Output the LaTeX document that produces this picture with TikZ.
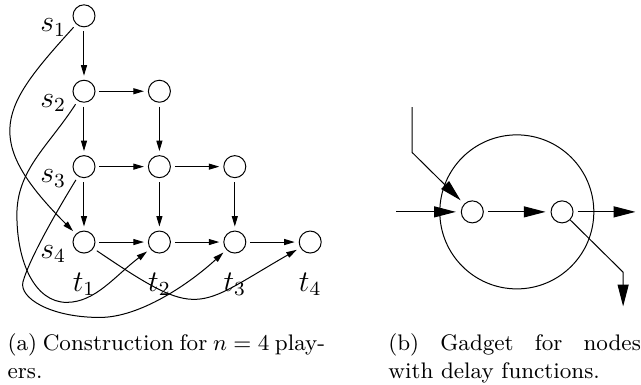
\documentclass[tikz,border=0pt]{standalone}
\usepackage{amsmath,amssymb}
\usetikzlibrary{arrows.meta,positioning,calc}

\begin{document}
\begin{tikzpicture}[x=1.06cm,y=1.06cm,
    vtx/.style={circle, draw, minimum size=8.8pt, inner sep=0pt},
    lbl/.style={font=\large, inner sep=0pt},
    arr/.style={-{Triangle[length=4.2pt,width=2.4pt]}, shorten <=1.6pt, shorten >=1.6pt},
    bigarr/.style={-{Triangle[length=8.7pt,width=4.4pt]}, shorten >=2pt},
    captxt/.style={font=\small, inner sep=0pt, align=justify, anchor=north west}]
    \useasboundingbox (-1.114,-1.883) rectangle (7.387,3.210);

    % players grid
    \node[vtx] (s1) at (0,3) {};
    \node[vtx] (s2) at (0,2) {};
    \node[vtx] (a2) at (1,2) {};
    \node[vtx] (s3) at (0,1) {};
    \node[vtx] (a3) at (1,1) {};
    \node[vtx] (b3) at (2,1) {};
    \node[vtx] (t1) at (0,0) {};
    \node[vtx] (t2) at (1,0) {};
    \node[vtx] (t3) at (2,0) {};
    \node[vtx] (t4) at (3,0) {};

    \node[lbl, left=2.4pt of s1, yshift=-4.7pt] (ls1) {$s_1$};
    \node[lbl, left=2.4pt of s2, yshift=-4.7pt] (ls2) {$s_2$};
    \node[lbl, left=2.4pt of s3, yshift=-4.7pt] (ls3) {$s_3$};
    \node[lbl, left=2.4pt of t1, yshift=-4.7pt] (ls4) {$s_4$};
    \node[lbl, below=7.4pt of t1] (lt1) {$t_1$};
    \node[lbl, below=7.4pt of t2] (lt2) {$t_2$};
    \node[lbl, below=7.4pt of t3] (lt3) {$t_3$};
    \node[lbl, below=7.4pt of t4] (lt4) {$t_4$};

    \draw[arr] (s1) -- (s2);
    \draw[arr] (s2) -- (s3);
    \draw[arr] (s3) -- (t1);
    \draw[arr] (a2) -- (a3);
    \draw[arr] (a3) -- (t2);
    \draw[arr] (b3) -- (t3);
    \draw[arr] (s2) -- (a2);
    \draw[arr] (s3) -- (a3);
    \draw[arr] (a3) -- (b3);
    \draw[arr] (t1) -- (t2);
    \draw[arr] (t2) -- (t3);
    \draw[arr] (t3) -- (t4);

    % paths s_i to t_i
    \draw[arr] (s1) .. controls (-1.10,1.79) and (-1.38,1.38) .. (t1);
    \draw[arr] (s2) .. controls (-0.48,1.26) and (-0.89,0.96) .. (-0.89,0.36)
        .. controls (-0.89,-0.27) and (-0.65,-0.80) .. (-0.23,-0.80)
        .. controls (0.15,-0.80) and (0.41,-0.45) .. (t2);
    \draw[arr] (s3) .. controls (-0.36,0.41) and (-0.72,-0.21) .. (-0.81,-0.53)
        .. controls (-0.86,-0.74) and (-0.45,-1.00) .. (0.21,-1.00)
        .. controls (0.74,-1.00) and (1.39,-0.56) .. (t3);
    \draw[arr] (t1) .. controls (1.55,-1.05) and (1.47,-0.88) .. (t4);

    % gadget
    \node[circle, draw, minimum size=61.6pt, inner sep=0pt] (g) at (5.74,0.40) {};
    \node[vtx] (g1) at (5.15,0.40) {};
    \node[vtx] (g2) at (6.34,0.40) {};
    \coordinate (in1) at (4.14,0.40);
    \coordinate (in2) at (4.35,1.79);
    \coordinate (bend1) at (4.35,1.19);
    \coordinate (out1) at (7.38,0.40);
    \coordinate (bend2) at (7.15,-0.40);
    \coordinate (out2) at (7.15,-0.92);

    \draw[bigarr] (in1) -- (g1);
    \draw[bigarr] (in2) -- (bend1) -- (g1);
    \draw[bigarr, shorten <=1.6pt] (g1) -- (g2);
    \draw[bigarr, shorten <=1.6pt] (g2) -- (out1);
    \draw[bigarr] (g2) -- (bend2) -- (out2);

    \node[captxt, text width=127pt] (capa) at (-1.02,-1.21) {(a) Construction for $n=4$ play-\linebreak ers.};
    \node[captxt, text width=101pt] (capb) at (4.03,-1.21) {(b) Gadget for nodes\linebreak with delay functions.};
\end{tikzpicture}
\end{document}
